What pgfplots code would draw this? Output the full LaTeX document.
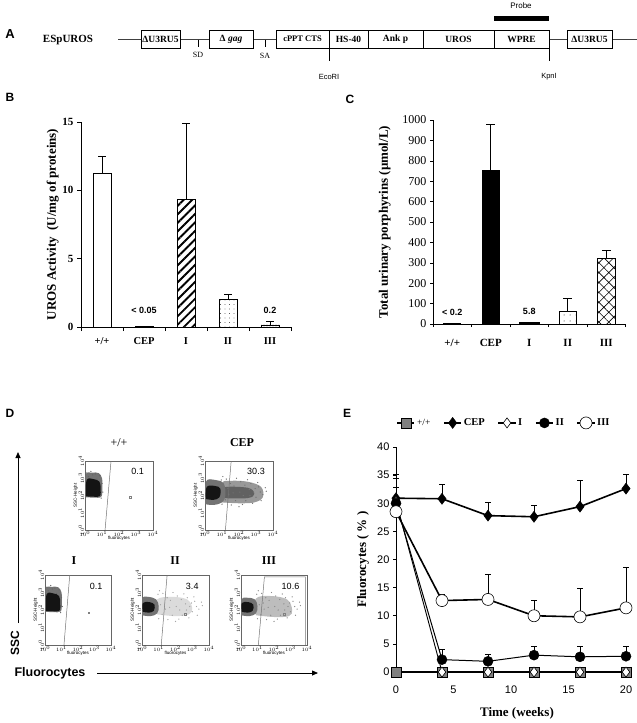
\documentclass[border=0pt]{standalone}
\usepackage{pgfplots}
\usepackage{pgfplotstable}
\pgfplotsset{compat=1.18}
\usetikzlibrary{patterns.meta,arrows.meta}
\usepackage{fontspec}
\setmainfont{Liberation Serif}
\setsansfont{Liberation Sans}
\newcommand{\fs}[1]{\fontsize{#1}{#1}\selectfont}

\pgfplotstableread{
x y
1.00 1.50
1.25 2.95
1.55 1.45
1.85 3.00
2.20 1.48
2.50 2.92
2.80 1.55
3.10 2.75
3.40 2.05
3.55 2.45
1.10 2.30
1.40 2.05
1.70 2.55
2.05 2.20
2.35 2.60
2.65 2.00
2.95 2.40
3.25 2.20
1.20 1.75
1.50 2.70
1.80 1.70
2.10 2.80
2.40 1.70
2.70 2.70
3.00 1.90
3.30 1.70
0.95 2.90
3.60 2.25
2.00 1.35
1.05 3.10
2.60 2.35
1.35 2.40
3.15 2.50
2.25 2.00
1.65 2.15
2.85 2.20
}\spreadtab

\pgfplotstableread{
x y
0.10 3.30
0.35 3.40
0.60 3.25
0.85 3.15
1.00 2.70
1.05 2.20
0.95 1.85
0.20 3.10
0.70 2.95
0.45 3.20
}\edgetab

\pgfplotsset{
  barax/.style={scale only axis, axis x line*=bottom, axis y line*=left,
    axis line style={-, line width=0.6pt}, tick align=outside,
    xmin=-0.5, xmax=4.5, ymin=0,
    xtick={-0.5,0.5,1.5,2.5,3.5,4.5}, xticklabels={{},{},{},{},{},{}},
    major tick length=4pt, tick style={black, line width=0.6pt},
    /pgf/number format/assume math mode=true, /pgf/number format/1000 sep={}, clip=false},
  bb/.style={ybar, bar width=18pt, bar shift=0pt, draw=black, line width=0.7pt,
    error bars/y dir=plus, error bars/y explicit,
    error bars/error bar style={line width=0.6pt, draw=black, solid},
    error bars/error mark options={draw=black, rotate=90, mark size=4pt, line width=0.6pt}},
  flow/.style={scale only axis, width=68pt, height=69pt,
    xmin=0, xmax=4, ymin=0, ymax=4,
    axis line style={black!60, line width=0.7pt},
    xtick={0,1,2,3,4}, ytick={0,1,2,3,4},
    xticklabels={$10^0$,$10^1$,$10^2$,$10^3$,$10^4$},
    yticklabels={$10^0$,$10^1$,$10^2$,$10^3$,$10^4$},
    major tick length=0pt, tick label style={font=\fs{5}, inner sep=0.8pt},
    yticklabel style={rotate=90, anchor=south},
    xlabel={fluorocytes}, ylabel={SSC-Height},
    label style={font=\sffamily\fs{4.5}, inner sep=1pt},
    xlabel style={yshift=2pt}, ylabel style={yshift=-1pt}},
  core/.style={fill=black!55, draw=none, smooth, tension=0.6},
  coreD/.style={fill=black!92, draw=none, smooth, tension=0.6},
  gate/.style={black!55, line width=0.5pt},
  dots/.style={only marks, mark=*, mark size=0.35pt},
  ebar/.style={error bars/y dir=plus, error bars/y explicit,
    error bars/error bar style={line width=0.6pt, black, solid},
    error bars/error mark options={black, rotate=90, mark size=3pt, line width=0.6pt}},
}

\begin{document}
\begin{tikzpicture}[x=1pt,y=1pt]
\useasboundingbox (0,0) rectangle (637,-723);

% ---------------- Panel A ----------------
\node[font=\sffamily\bfseries\fs{13}] at (10,-34) {A};
\node[font=\bfseries\fs{11}] at (68,-40) {ESpUROS};
\draw[black!75, line width=0.8pt] (118,-39.5) -- (637,-39.5);
\begin{scope}[line width=0.7pt, every node/.style={font=\bfseries\fs{9.5}}]
\draw[fill=white] (141,-30) rectangle (180,-48) node[midway] {ΔU3RU5};
\draw (198,-39.5) -- (198,-46.5);
\node[font=\fs{8}] at (198,-55) {SD};
\draw[fill=white] (209,-30) rectangle (253,-48) node[midway] {Δ \textit{gag}};
\draw (265,-39.5) -- (265,-46.5);
\node[font=\fs{8}] at (265,-56) {SA};
\draw[fill=white] (276,-30) rectangle (329,-48) node[midway] {\fs{8.5}cPPT CTS};
\draw[fill=white] (329,-30) rectangle (368,-48) node[midway] {HS-40};
\draw[fill=white] (368,-30) rectangle (423,-48) node[midway] {Ank p};
\draw[fill=white] (423,-30) rectangle (494,-48) node[midway] {UROS};
\draw[fill=white] (494,-30) rectangle (549,-48) node[midway] {WPRE};
\draw[fill=white] (567,-30) rectangle (612,-48) node[midway] {ΔU3RU5};
\draw (329,-48) -- (329,-61);
\draw (549,-48) -- (549,-61);
\end{scope}
\node[font=\sffamily\fs{7.5}] at (329,-77) {EcoRI};
\node[font=\sffamily\fs{7.5}] at (549,-77) {KpnI};
\fill (494,-16) rectangle (549,-20.5);
\node[font=\sffamily\fs{8}] at (521,-6) {Probe};

% ---------------- Panel B ----------------
\node[font=\sffamily\bfseries\fs{12}] at (10,-97) {B};
\begin{axis}[barax, at={(81pt,-327pt)}, anchor=south west, width=210pt, height=205pt,
  ymax=15, ytick={0,5,10,15},
  yticklabel style={font=\bfseries\fs{11}},
  ylabel={UROS Activity\ \ (U/mg of proteins)},
  ylabel style={font=\bfseries\fs{13}, at={(axis description cs:-0.135,0.5)}, anchor=center}]
\addplot[fill=white, bb] coordinates {(0,11.25) +- (0,1.25)};
\addplot[fill=white, bb] coordinates {(1,0.03) +- (0,0)};
\addplot[fill=white, postaction={pattern={Lines[angle=45,distance=6pt,line width=1.9pt]}}, bb] coordinates {(2,9.35) +- (0,5.55)};
\addplot[fill=white, postaction={pattern={Dots[distance=4.5pt,radius=0.45pt]}}, bb] coordinates {(3,2.0) +- (0,0.4)};
\addplot[fill=white, postaction={pattern={Dots[distance=3pt,radius=0.4pt]}}, bb] coordinates {(4,0.15) +- (0,0.25)};
\node[font=\sffamily\bfseries\fs{9}] at (axis cs:1,1.25) {< 0.05};
\node[font=\sffamily\bfseries\fs{9}] at (axis cs:4,1.25) {0.2};
\begin{scope}[every node/.style={font=\bfseries\fs{10.5}, yshift=-14pt}]
\node at (axis cs:0,0) {+/+};
\node at (axis cs:1,0) {CEP};
\node at (axis cs:2,0) {I};
\node at (axis cs:3,0) {II};
\node at (axis cs:4,0) {III};
\end{scope}
\end{axis}

% ---------------- Panel C ----------------
\node[font=\sffamily\bfseries\fs{12}] at (350,-99) {C};
\begin{axis}[barax, at={(433pt,-324pt)}, anchor=south west, width=192.5pt, height=204pt,
  ymax=1000, ytick={0,100,...,1000},
  yticklabel style={font=\fs{12}},
  major tick length=3pt,
  ylabel={Total urinary porphyrins (µmol/L)},
  ylabel style={font=\bfseries\fs{13}, at={(axis description cs:-0.25,0.5)}, anchor=center}]
\addplot[fill=black, bb, bar width=17pt] coordinates {(0,1.5) +- (0,0)};
\addplot[fill=black, bb, bar width=17pt, error bars/error mark options={draw=black, rotate=90, mark size=4.5pt, line width=0.6pt}] coordinates {(1,755) +- (0,225)};
\addplot[fill=black, bb, bar width=20pt] coordinates {(2,6) +- (0,3)};
\addplot[fill=white, postaction={pattern={Dots[distance=6pt,radius=0.5pt]}}, bb, bar width=17pt, error bars/error mark options={draw=black, rotate=90, mark size=4.5pt, line width=0.6pt}] coordinates {(3,62) +- (0,62)};
\addplot[fill=white, postaction={pattern={Hatch[angle=45,distance=7pt,line width=0.6pt]}}, bb, error bars/error mark options={draw=black, rotate=90, mark size=4.5pt, line width=0.6pt}] coordinates {(4,322) +- (0,40)};
\node[font=\sffamily\bfseries\fs{9}] at (axis cs:0,59) {< 0.2};
\node[font=\sffamily\bfseries\fs{9}] at (axis cs:2,64) {5.8};
\begin{scope}[every node/.style={font=\bfseries\fs{11}, yshift=-19pt}]
\node at (axis cs:0,0) {+/+};
\node at (axis cs:1,0) {CEP};
\node at (axis cs:2,0) {I};
\node at (axis cs:3,0) {II};
\node at (axis cs:4,0) {III};
\end{scope}
\end{axis}

% ---------------- Panel D ----------------
\node[font=\sffamily\bfseries\fs{12}] at (10,-413) {D};
\draw[-{Triangle[length=6pt,width=5pt]}, line width=0.8pt] (18,-623) -- (18,-452);
\node[font=\sffamily\bfseries\fs{12}, rotate=90] at (15,-643) {SSC};
\node[font=\sffamily\bfseries\fs{12.5}] at (50,-673) {Fluorocytes};
\draw[-{Triangle[length=6pt,width=5pt]}, line width=0.8pt] (97,-673) -- (318,-673);

\node[font=\fs{12}] at (119,-443) {+/+};
\node[font=\bfseries\fs{12}] at (242,-443) {CEP};
\node[font=\bfseries\fs{12}] at (74,-561) {I};
\node[font=\bfseries\fs{12}] at (175,-561) {II};
\node[font=\bfseries\fs{12}] at (269,-561) {III};

% +/+
\begin{axis}[flow, at={(85pt,-530pt)}, anchor=south west]
\addplot[core] coordinates {(0.02,1.9)(0.5,1.88)(0.95,1.92)(1.02,2.4)(1.0,3.0)(0.8,3.3)(0.4,3.32)(0.05,3.2)(0.02,1.9)};
\addplot[coreD] coordinates {(0.05,1.95)(0.5,1.93)(0.88,1.97)(0.92,2.4)(0.85,2.8)(0.5,2.95)(0.1,2.9)(0.05,1.95)};
\addplot[dots, black!60] table {\edgetab};
\addplot[gate] coordinates {(1.18,0)(1.53,4)};
\addplot[only marks, mark=square, mark size=0.9pt, black!50] coordinates {(2.65,1.92)};
\node[font=\sffamily\fs{9}] at (axis cs:3.1,3.4) {0.1};
\end{axis}

% CEP
\begin{axis}[flow, at={(205pt,-530pt)}, anchor=south west]
\addplot[fill=black!40, draw=none, smooth, tension=0.6] coordinates {(1.0,1.6)(2.0,1.55)(2.9,1.6)(3.4,1.9)(3.3,2.5)(2.5,2.8)(1.5,2.85)(1.0,2.7)(1.0,1.6)};
\addplot[fill=black!62, draw=none, smooth, tension=0.6] coordinates {(1.0,1.85)(2.5,1.85)(2.9,2.1)(2.5,2.45)(1.0,2.45)(1.0,1.85)};
\addplot[core] coordinates {(0.0,1.5)(0.5,1.45)(1.0,1.6)(1.2,2.0)(1.1,2.7)(0.6,2.9)(0.05,2.8)(0.0,1.5)};
\addplot[coreD] coordinates {(0.05,1.8)(0.5,1.75)(0.85,1.9)(0.9,2.4)(0.6,2.55)(0.1,2.5)(0.05,1.8)};
\addplot[dots, black!55] table {\spreadtab};
\addplot[gate] coordinates {(1.2,0)(1.54,4)};
\node[font=\sffamily\fs{9}] at (axis cs:3.0,3.4) {30.3};
\end{axis}

% I
\begin{axis}[flow, at={(45pt,-645pt)}, anchor=south west, width=66pt, height=70pt]
\addplot[core] coordinates {(0.02,1.9)(0.5,1.88)(0.95,1.92)(1.02,2.4)(1.0,3.0)(0.8,3.3)(0.4,3.32)(0.05,3.2)(0.02,1.9)};
\addplot[coreD] coordinates {(0.05,1.95)(0.5,1.93)(0.88,1.97)(0.92,2.4)(0.85,2.8)(0.5,2.95)(0.1,2.9)(0.05,1.95)};
\addplot[dots, black!60] table {\edgetab};
\addplot[gate] coordinates {(1.15,0)(1.5,4)};
\addplot[only marks, mark=square, mark size=0.9pt, black!50] coordinates {(2.65,1.85)};
\node[font=\sffamily\fs{9}] at (axis cs:3.1,3.35) {0.1};
\end{axis}

% II
\begin{axis}[flow, at={(142pt,-645pt)}, anchor=south west, width=67pt, height=70pt]
\addplot[fill=black!14, draw=none, smooth, tension=0.6] coordinates {(0.9,1.75)(2,1.65)(2.8,1.75)(3.0,2.1)(2.7,2.6)(1.8,2.75)(0.9,2.6)(0.9,1.75)};
\addplot[core] coordinates {(0.0,1.7)(0.5,1.65)(0.9,1.8)(1.0,2.2)(0.85,2.6)(0.4,2.75)(0.0,2.65)(0.0,1.7)};
\addplot[coreD] coordinates {(0.05,1.9)(0.4,1.85)(0.7,1.95)(0.75,2.3)(0.45,2.45)(0.05,2.4)(0.05,1.9)};
\addplot[dots, black!35] table {\spreadtab};
\addplot[gate] coordinates {(1.15,0)(1.5,4)};
\addplot[only marks, mark=square, mark size=0.9pt, black!50] coordinates {(2.6,1.75)};
\node[font=\sffamily\fs{9}] at (axis cs:3.0,3.35) {3.4};
\end{axis}

% III
\begin{axis}[flow, at={(241pt,-645pt)}, anchor=south west, width=66pt, height=70pt]
\addplot[fill=black!26, draw=none, smooth, tension=0.6] coordinates {(0.9,1.7)(2,1.6)(2.9,1.65)(3.1,2.0)(2.8,2.6)(1.8,2.8)(0.9,2.65)(0.9,1.7)};
\addplot[core] coordinates {(0.0,1.7)(0.5,1.65)(0.9,1.8)(1.0,2.2)(0.85,2.6)(0.4,2.7)(0.0,2.6)(0.0,1.7)};
\addplot[coreD] coordinates {(0.05,1.9)(0.4,1.85)(0.7,1.95)(0.75,2.3)(0.45,2.45)(0.05,2.4)(0.05,1.9)};
\addplot[dots, black!45] table {\spreadtab};
\addplot[gate] coordinates {(1.05,0)(1.42,3.9)(3.9,3.9)(3.9,0)};
\addplot[only marks, mark=square, mark size=0.9pt, black!50] coordinates {(2.6,1.75)};
\node[font=\sffamily\fs{9}] at (axis cs:3.0,3.35) {10.6};
\end{axis}

% ---------------- Panel E ----------------
\node[font=\sffamily\bfseries\fs{12}] at (347,-413) {E};
\begin{axis}[at={(396pt,-672pt)}, anchor=south west, scale only axis, width=230pt, height=225pt,
  xmin=0, xmax=20, ymin=0, ymax=40,
  axis x line*=bottom, axis y line*=left, axis line style={-, line width=0.6pt},
  xtick=\empty,
  ytick={0,5,...,40}, tick align=outside, major tick length=3pt,
  tick style={black, line width=0.6pt},
  tick label style={font=\sffamily\fs{11}}, /pgf/number format/assume math mode=true,
  xlabel={Time (weeks)}, ylabel={Fluorocytes ( \% )},
  label style={font=\bfseries\fs{13}},
  xlabel style={at={(axis description cs:0.526,-0.182)}, anchor=center},
  ylabel style={at={(axis description cs:-0.143,0.5)}, anchor=center},
  clip=false,
  legend columns=5,
  legend style={draw=none, fill=none, at={(axis description cs:0.47,1.107)}, anchor=center,
    font=\bfseries\fs{10.5}, /tikz/every even column/.append style={column sep=11pt}},
  legend image post style={line width=1.3pt}
]
\addplot[black, line width=1.6pt, mark=square*, mark size=5pt,
  mark options={fill=black!50, draw=black, line width=0.5pt}]
  coordinates {(0,0)(4,0)(8,0)(12,0)(16,0)(20,0)};
\addlegendentry{\mdseries\fs{9.5}+/+}
\addplot[black, line width=1.6pt, mark=diamond*, mark size=5.5pt,
  mark options={fill=black, line width=0.5pt}, ebar]
  coordinates {(0,30.9) +- (0,4.2) (4,30.8) +- (0,2.6) (8,27.8) +- (0,2.4) (12,27.6) +- (0,2.0) (16,29.4) +- (0,4.7) (20,32.6) +- (0,2.6)};
\addlegendentry{CEP}
\addplot[black, line width=0.9pt, mark=diamond*, mark size=5pt,
  mark options={fill=white, line width=0.6pt}]
  coordinates {(0,30.3)(4,0)(8,0)(12,0)(16,0)(20,0)};
\addlegendentry{I}
\addplot[black, line width=1.0pt, mark=*, mark size=5pt,
  mark options={fill=black, line width=0.5pt}, ebar]
  coordinates {(0,30.0) +- (0,2.9) (4,2.2) +- (0,1.8) (8,1.9) +- (0,1.2) (12,3.0) +- (0,1.6) (16,2.7) +- (0,1.9) (20,2.8) +- (0,1.8)};
\addlegendentry{II}
\addplot[black, line width=1.6pt, mark=*, mark size=6pt,
  mark options={fill=white, line width=0.6pt}, ebar]
  coordinates {(0,28.5) +- (0,6.0) (4,12.7) +- (0,1.2) (8,12.9) +- (0,4.4) (12,10.0) +- (0,2.8) (16,9.8) +- (0,5.1) (20,11.4) +- (0,7.2)};
\addlegendentry{III}
\begin{scope}[every node/.style={font=\sffamily\fs{11}, yshift=-18pt}]
\node at (axis cs:0,0) {0};
\node at (axis cs:5,0) {5};
\node at (axis cs:10,0) {10};
\node at (axis cs:15,0) {15};
\node at (axis cs:20,0) {20};
\end{scope}
\end{axis}
\end{tikzpicture}
\end{document}
